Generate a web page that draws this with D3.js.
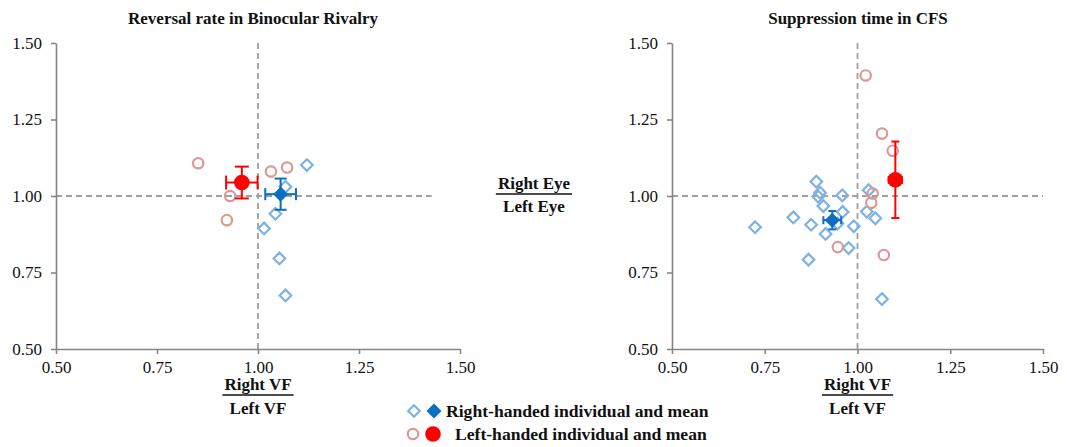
<!DOCTYPE html>
<html><head><meta charset="utf-8">
<script src="https://cdn.jsdelivr.net/npm/d3@7"></script>
<style>
html,body{margin:0;padding:0;background:#fff;}
svg{display:block;}
svg text{font-family:"Liberation Serif","Times New Roman",serif !important;}
</style></head>
<body>
<svg id="chart" width="1067" height="447"></svg>
<script>
// ---------- DATA ----------
const axisTicks = [0.5, 0.75, 1.0, 1.25, 1.5];
const titles = ["Reversal rate in Binocular Rivalry", "Suppression time in CFS"];
const legendLabels = ["Right-handed individual and mean", "Left-handed individual and mean"];

// Binocular rivalry (left panel)
const brRightX = [1.121, 1.068, 1.043, 1.015, 1.053, 1.068];
const brRightY = [1.101, 1.030, 0.942, 0.894, 0.796, 0.675];
const brLeftX  = [0.852, 1.032, 1.072, 0.931, 0.923];
const brLeftY  = [1.107, 1.080, 1.093, 1.000, 0.921];
const brRightMean = [1.056, 1.006];
const brRightErr  = [0.038, 0.051];
const brLeftMean  = [0.960, 1.044];
const brLeftErr   = [0.039, 0.052];

// CFS (right panel)
const cfsRightX = [0.889, 0.899, 0.894, 0.959, 1.030, 0.908, 0.960, 1.025, 1.048, 0.827, 0.724, 0.875, 0.990, 0.914, 0.946, 0.976, 0.868, 1.066];
const cfsRightY = [1.047, 1.011, 0.998, 1.002, 1.019, 0.967, 0.948, 0.949, 0.927, 0.930, 0.898, 0.906, 0.901, 0.876, 0.910, 0.830, 0.792, 0.663];
const cfsLeftX  = [1.022, 1.066, 1.095, 1.041, 1.037, 0.947, 1.071];
const cfsLeftY  = [1.394, 1.204, 1.148, 1.008, 0.978, 0.833, 0.807];
const cfsRightMean = [0.932, 0.921];
const cfsRightErr  = [0.024, 0.030];
const cfsLeftMean  = [1.102, 1.053];
const cfsLeftErr   = [0.018, 0.125];

// ---------- STYLE ----------
const C = {
  axis: "#868686", dash: "#a0a0a0", text: "#111",
  rOpen: "#7eb2e0", rFill: "#0a6fc2",
  lOpen: "#d99a98", lFill: "#ff0000"
};
const FONT = "'Liberation Serif', 'Times New Roman', serif";

const svg = d3.select("#chart");

const panels = [
  { title: titles[0], x0: 56, x1: 460, titleX: 253, hdashEnd: 1.43, cap: 14,
    rx: brRightX, ry: brRightY, lx: brLeftX, ly: brLeftY,
    rm: brRightMean, re: brRightErr, lm: brLeftMean, le: brLeftErr, capR: 12 },
  { title: titles[1], x0: 672, x1: 1043, titleX: 858, hdashEnd: 1.5, cap: 8,
    rx: cfsRightX, ry: cfsRightY, lx: cfsLeftX, ly: cfsLeftY,
    rm: cfsRightMean, re: cfsRightErr, lm: cfsLeftMean, le: cfsLeftErr, capR: 8 }
];

const yTop = 43, yBot = 349;
const diamond = (s) => `M0,${-s}L${s},0L0,${s}L${-s},0Z`;

panels.forEach(p => {
  const x = d3.scaleLinear().domain([0.5, 1.5]).range([p.x0, p.x1]);
  const y = d3.scaleLinear().domain([0.5, 1.5]).range([yBot, yTop]);
  const g = svg.append("g");

  // title
  g.append("text").attr("x", p.titleX).attr("y", 24).attr("text-anchor", "middle")
    .attr("font-weight", "bold").attr("font-size", 17).attr("fill", C.text).text(p.title);

  // dashed reference lines
  g.append("line").attr("x1", x(1)).attr("x2", x(1)).attr("y1", y(1.5)).attr("y2", y(0.5))
    .attr("stroke", C.dash).attr("stroke-width", 1.8).attr("stroke-dasharray", "6,4");
  g.append("line").attr("x1", x(0.5)).attr("x2", x(p.hdashEnd)).attr("y1", y(1)).attr("y2", y(1))
    .attr("stroke", C.dash).attr("stroke-width", 1.8).attr("stroke-dasharray", "6,4");

  // axes
  const xAxis = d3.axisBottom(x).tickValues(axisTicks).tickFormat(d3.format(".2f")).tickSizeInner(5).tickSizeOuter(0).tickPadding(7);
  const yAxis = d3.axisLeft(y).tickValues(axisTicks).tickFormat(d3.format(".2f")).tickSizeInner(5).tickSizeOuter(0).tickPadding(9);
  const gx = g.append("g").attr("transform", `translate(0,${yBot})`).call(xAxis);
  const gy = g.append("g").attr("transform", `translate(${p.x0},0)`).call(yAxis);
  [gx, gy].forEach(a => {
    a.attr("font-family", FONT);
    a.select(".domain").attr("stroke", C.axis).attr("stroke-width", 1.6);
    a.selectAll(".tick line").attr("stroke", C.axis).attr("stroke-width", 1.6);
    a.selectAll(".tick text").style("font-family", FONT).attr("font-size", 17).attr("fill", C.text);
  });

  // individuals - right handed (open diamonds)
  g.append("g").selectAll("path").data(p.rx.map((v, i) => [v, p.ry[i]])).join("path")
    .attr("d", diamond(5.8)).attr("transform", d => `translate(${x(d[0])},${y(d[1])})`)
    .attr("fill", "none").attr("stroke", C.rOpen).attr("stroke-width", 2.2);
  // individuals - left handed (open circles)
  g.append("g").selectAll("circle").data(p.lx.map((v, i) => [v, p.ly[i]])).join("circle")
    .attr("cx", d => x(d[0])).attr("cy", d => y(d[1])).attr("r", 5.2)
    .attr("fill", "none").attr("stroke", C.lOpen).attr("stroke-width", 2.2);

  // means with error bars
  function errBars(m, e, col, cap) {
    const eg = g.append("g").attr("stroke", col).attr("stroke-width", 2);
    const cx = x(m[0]), cy = y(m[1]);
    eg.append("line").attr("x1", x(m[0] - e[0])).attr("x2", x(m[0] + e[0])).attr("y1", cy).attr("y2", cy);
    eg.append("line").attr("x1", cx).attr("x2", cx).attr("y1", y(m[1] - e[1])).attr("y2", y(m[1] + e[1]));
    [m[0] - e[0], m[0] + e[0]].forEach(v =>
      eg.append("line").attr("x1", x(v)).attr("x2", x(v)).attr("y1", cy - cap / 2).attr("y2", cy + cap / 2));
    [m[1] - e[1], m[1] + e[1]].forEach(v =>
      eg.append("line").attr("y1", y(v)).attr("y2", y(v)).attr("x1", cx - cap / 2).attr("x2", cx + cap / 2));
  }
  errBars(p.rm, p.re, C.rFill, p.capR);
  g.append("path").attr("d", diamond(7.5)).attr("transform", `translate(${x(p.rm[0])},${y(p.rm[1])})`).attr("fill", C.rFill);
  errBars(p.lm, p.le, C.lFill, p.cap);
  g.append("circle").attr("cx", x(p.lm[0])).attr("cy", y(p.lm[1])).attr("r", 7.8).attr("fill", C.lFill);

  // x axis label (fraction)
  fraction(g, (p.x0 + p.x1) / 2, 390, "Right VF", "Left VF", 24);
});

function fraction(g, cx, yTopBase, top, bottom, gap) {
  const t = g.append("text").attr("x", cx).attr("y", yTopBase).attr("text-anchor", "middle")
    .attr("font-weight", "bold").attr("font-size", 17).attr("fill", C.text).text(top);
  g.append("text").attr("x", cx).attr("y", yTopBase + gap).attr("text-anchor", "middle")
    .attr("font-weight", "bold").attr("font-size", 17).attr("fill", C.text).text(bottom);
  const w = t.node().getComputedTextLength();
  g.append("line").attr("x1", cx - w / 2 - 2).attr("x2", cx + w / 2 + 2)
    .attr("y1", yTopBase + 5).attr("y2", yTopBase + 5).attr("stroke", C.text).attr("stroke-width", 1.5);
}

// y-axis label in the middle
fraction(svg, 534, 189, "Right Eye", "Left Eye", 23);

// legend
const lg = svg.append("g");
lg.append("path").attr("d", diamond(5.8)).attr("transform", "translate(414,411)")
  .attr("fill", "none").attr("stroke", C.rOpen).attr("stroke-width", 2.2);
lg.append("path").attr("d", diamond(7.5)).attr("transform", "translate(434,411)").attr("fill", C.rFill);
lg.append("text").attr("x", 446).attr("y", 417).attr("font-weight", "bold").attr("font-size", 17.6)
  .attr("fill", C.text).text(legendLabels[0]);
lg.append("circle").attr("cx", 413).attr("cy", 434).attr("r", 5.2)
  .attr("fill", "none").attr("stroke", C.lOpen).attr("stroke-width", 2.2);
lg.append("circle").attr("cx", 433).attr("cy", 434).attr("r", 7.8).attr("fill", C.lFill);
lg.append("text").attr("x", 455).attr("y", 440).attr("font-weight", "bold").attr("font-size", 17.6)
  .attr("fill", C.text).text(legendLabels[1]);
</script>
</body></html>
